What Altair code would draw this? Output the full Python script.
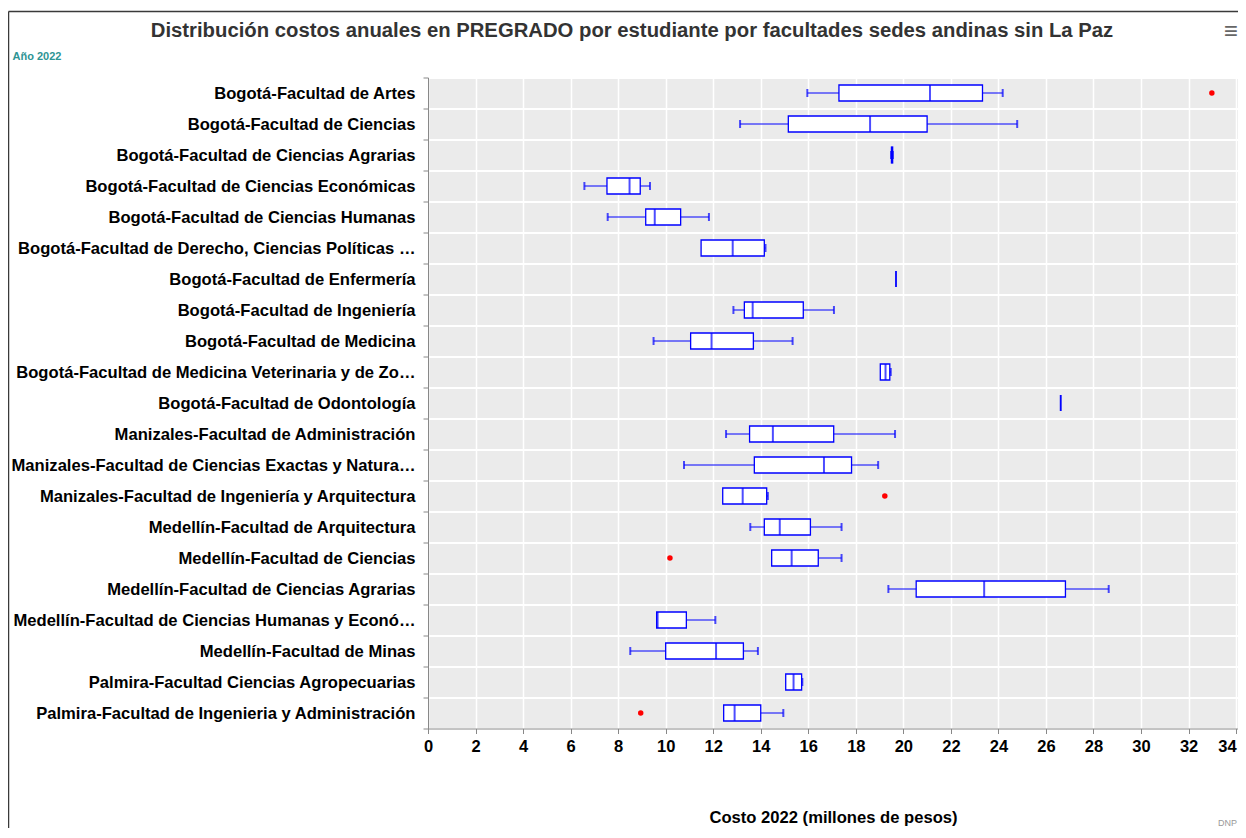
import altair as alt
import pandas as pd

# ---------------- data (millones de pesos) ----------------
facultades = [
    "Bogotá-Facultad de Artes",
    "Bogotá-Facultad de Ciencias",
    "Bogotá-Facultad de Ciencias Agrarias",
    "Bogotá-Facultad de Ciencias Económicas",
    "Bogotá-Facultad de Ciencias Humanas",
    "Bogotá-Facultad de Derecho, Ciencias Políticas …",
    "Bogotá-Facultad de Enfermería",
    "Bogotá-Facultad de Ingeniería",
    "Bogotá-Facultad de Medicina",
    "Bogotá-Facultad de Medicina Veterinaria y de Zo…",
    "Bogotá-Facultad de Odontología",
    "Manizales-Facultad de Administración",
    "Manizales-Facultad de Ciencias Exactas y Natura…",
    "Manizales-Facultad de Ingeniería y Arquitectura",
    "Medellín-Facultad de Arquitectura",
    "Medellín-Facultad de Ciencias",
    "Medellín-Facultad de Ciencias Agrarias",
    "Medellín-Facultad de Ciencias Humanas y Econó…",
    "Medellín-Facultad de Minas",
    "Palmira-Facultad Ciencias Agropecuarias",
    "Palmira-Facultad de Ingenieria y Administración",
]
minimo = [15.96, 13.13, 19.48, 6.58, 7.56, 11.49, 19.69, 12.85, 9.49, 19.03, 26.62,
          12.54, 10.77, 12.40, 13.56, 14.46, 19.37, 9.62, 8.51, 15.05, 12.44]
q1 = [17.29, 15.16, 19.50, 7.53, 9.16, 11.49, 19.69, 13.31, 11.05, 19.03, 26.62,
      13.53, 13.73, 12.40, 14.15, 14.46, 20.54, 9.62, 10.00, 15.05, 12.44]
mediana = [21.12, 18.60, 19.52, 8.48, 9.54, 12.82, 19.69, 13.66, 11.93, 19.25, 26.62,
           14.51, 16.66, 13.24, 14.80, 15.30, 23.40, 9.66, 12.12, 15.38, 12.90]
q3 = [23.33, 21.00, 19.55, 8.93, 10.63, 14.15, 19.69, 15.79, 13.69, 19.43, 26.62,
      17.07, 17.82, 14.25, 16.09, 16.42, 26.82, 10.87, 13.27, 15.72, 14.00]
maximo = [24.18, 24.79, 19.56, 9.34, 11.82, 14.20, 19.69, 17.08, 15.34, 19.47, 26.62,
          19.65, 18.94, 14.30, 17.40, 17.40, 28.64, 12.09, 13.88, 15.75, 14.95]

atipicos_fac = [
    "Bogotá-Facultad de Artes",
    "Manizales-Facultad de Ingeniería y Arquitectura",
    "Medellín-Facultad de Ciencias",
    "Palmira-Facultad de Ingenieria y Administración",
]
atipicos_val = [32.98, 19.22, 10.18, 8.95]

x_ticks = list(range(0, 35, 2))

df = pd.DataFrame({"facultad": facultades, "lo": minimo, "q1": q1,
                   "med": mediana, "q3": q3, "hi": maximo})
odf = pd.DataFrame({"facultad": atipicos_fac, "valor": atipicos_val})

FONT = "Liberation Sans"
BLUE = "#0000ff"

xscale = alt.Scale(domain=[0, 34.08], nice=False, zero=False)
yscale = alt.Scale(domain=facultades, paddingInner=0, paddingOuter=0)

xaxis = alt.Axis(
    title="Costo 2022 (millones de pesos)", values=x_ticks, format="d",
    labelFont=FONT, labelFontSize=16.5, labelFontWeight="bold", labelColor="#000",
    labelAlign={"condition": {"test": "datum.value >= 34", "value": "right"}, "value": "center"},
    labelPadding=5, tickSize=5, tickColor="#888", domainColor="#888",
    grid=True, gridColor="#ffffff", gridWidth=1.5,
    titleFont=FONT, titleFontSize=16.6, titleFontWeight="bold", titleColor="#000",
    titlePadding=54,
)
yaxis = alt.Axis(
    title="Año 2022", titleAngle=0, titleX=-416, titleY=-21.5, titleAlign="left",
    titleBaseline="middle", titleFont=FONT, titleFontSize=11, titleFontWeight="bold",
    titleColor="#2e9494",
    labelFont=FONT, labelFontSize=16.6, labelFontWeight="bold", labelColor="#000",
    labelLimit=420, labelPadding=8, tickBand="extent", tickSize=5, tickColor="#888",
    domainColor="#888", grid=True, gridColor="#ffffff", gridWidth=2,
)


def X(field):
    return alt.X(field, scale=xscale, axis=xaxis)


Y = alt.Y("facultad:N", scale=yscale, axis=yaxis)

base = alt.Chart(df)
whisker = base.mark_rule(color=BLUE, strokeWidth=1).encode(y=Y, x=X("lo:Q"), x2="hi:Q")
box = base.mark_bar(size=16, fill="white", stroke=BLUE, strokeWidth=1.3).encode(
    y=Y, x=X("q1:Q"), x2="q3:Q")
median = base.mark_tick(color=BLUE, size=16, thickness=2).encode(y=Y, x=X("med:Q"))
cap_lo = base.transform_filter("datum.lo < datum.q1").mark_tick(
    color=BLUE, size=8, thickness=2).encode(y=Y, x=X("lo:Q"))
cap_hi = base.transform_filter("datum.hi > datum.q3").mark_tick(
    color=BLUE, size=8, thickness=2).encode(y=Y, x=X("hi:Q"))
outliers = alt.Chart(odf).mark_circle(color="#ff0000", size=30, opacity=1).encode(
    y=Y, x=X("valor:Q"))

deco = alt.Chart(pd.DataFrame({"k": [0]}))
frame_left = deco.mark_rule(color="#3a3a3a", strokeWidth=1.5).encode(
    x=alt.value(-419.5), y=alt.value(-66), y2=alt.value(760))
frame_top = deco.mark_rule(color="#3a3a3a", strokeWidth=1.5).encode(
    x=alt.value(-419.5), x2=alt.value(812), y=alt.value(-66))
credit = deco.mark_text(text="DNP", font=FONT, fontSize=9, color="#999999",
                        align="right", baseline="bottom").encode(
    x=alt.value(809), y=alt.value(750))
menu = deco.mark_text(text="≡", font=FONT, fontSize=24, color="#666666",
                      align="right", baseline="middle").encode(
    x=alt.value(810), y=alt.value(-46))

chart = alt.layer(
    whisker, box, median, cap_lo, cap_hi, outliers,
    frame_left, frame_top, credit, menu,
).properties(
    width=810, height=651,
    padding={"left": 420, "top": 69.5, "right": 0, "bottom": 99.5},
    autosize="none",
    title=alt.TitleParams(
        text="Distribución costos anuales en PREGRADO por estudiante por facultades sedes andinas sin La Paz",
        anchor="middle", dx=-201, offset=-31, font=FONT, fontSize=20.3,
        fontWeight="bold", color="#333333",
    ),
).configure_view(
    fill="#ebebeb", strokeWidth=0
)

chart.save("out.html", embed_options={"renderer": "svg", "actions": False})
